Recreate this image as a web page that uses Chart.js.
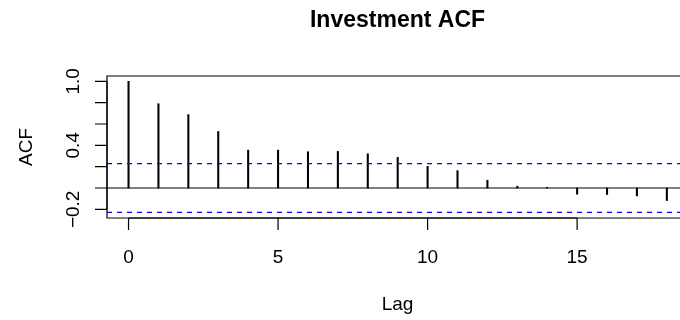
<!DOCTYPE html>
<html>
<head>
<meta charset="utf-8">
<script src="https://cdn.jsdelivr.net/npm/chart.js@4/dist/chart.umd.min.js"></script>
<style>
  html, body { margin: 0; padding: 0; background: #fff; overflow: hidden; }
  #wrap { width: 680px; height: 320px; }
</style>
</head>
<body>
<div id="wrap"><canvas id="acf"></canvas></div>
<script>
// values
const lags = [0, 1, 2, 3, 4, 5, 6, 7, 8, 9, 10, 11, 12, 13, 14, 15, 16, 17, 18];
const acfValues = [1.0, 0.79, 0.688, 0.53, 0.355, 0.355, 0.34, 0.343, 0.321, 0.287, 0.203, 0.163, 0.073, 0.017, 0.007, -0.058, -0.061, -0.074, -0.117];
const confLimit = 0.229;
const xTicks = [0, 5, 10, 15];
const yTicks = [-0.2, 0, 0.2, 0.4, 0.6, 0.8, 1.0];
const yTickLabels = ["\u22120.2", "", "", "0.4", "", "", "1.0"];

const X_MIN = -0.72, X_MAX = 18.44;
const Y_MIN = -0.281, Y_MAX = 1.05;
const FONT = '"Liberation Sans", Arial, Helvetica, sans-serif';

function hline(y, color, dash) {
  return {
    type: "line",
    data: [{ x: X_MIN, y: y }, { x: X_MAX, y: y }],
    borderColor: color,
    borderWidth: 1.2,
    borderDash: dash,
    pointRadius: 0,
    order: dash.length ? 1 : 2,
  };
}

// R-style frame, ticks and text
const rFrame = {
  id: "rFrame",
  afterDraw(chart) {
    const { ctx, chartArea: a } = chart;
    const xs = chart.scales.x, ys = chart.scales.y;
    ctx.save();
    ctx.strokeStyle = "#000";
    ctx.fillStyle = "#000";
    ctx.lineWidth = 1.2;

    // box (right side runs off the canvas)
    ctx.beginPath();
    ctx.moveTo(a.right + 2, a.top);
    ctx.lineTo(a.left, a.top);
    ctx.lineTo(a.left, a.bottom);
    ctx.lineTo(a.right + 2, a.bottom);
    ctx.stroke();

    // x axis
    ctx.beginPath();
    ctx.moveTo(xs.getPixelForValue(xTicks[0]), a.bottom);
    ctx.lineTo(xs.getPixelForValue(xTicks[xTicks.length - 1]), a.bottom);
    xTicks.forEach((t) => {
      const px = xs.getPixelForValue(t);
      ctx.moveTo(px, a.bottom);
      ctx.lineTo(px, a.bottom + 12);
    });
    ctx.stroke();

    // y axis
    ctx.beginPath();
    ctx.moveTo(a.left, ys.getPixelForValue(yTicks[0]));
    ctx.lineTo(a.left, ys.getPixelForValue(yTicks[yTicks.length - 1]));
    yTicks.forEach((t) => {
      const py = ys.getPixelForValue(t);
      ctx.moveTo(a.left, py);
      ctx.lineTo(a.left - 12, py);
    });
    ctx.stroke();

    ctx.font = "19px " + FONT;
    ctx.textAlign = "center";
    ctx.textBaseline = "alphabetic";
    xTicks.forEach((t) => {
      ctx.fillText(String(t), xs.getPixelForValue(t), 263);
    });

    yTicks.forEach((t, i) => {
      if (!yTickLabels[i]) return;
      ctx.save();
      ctx.translate(79, ys.getPixelForValue(t));
      ctx.rotate(-Math.PI / 2);
      ctx.fillText(yTickLabels[i], 0, 0);
      ctx.restore();
    });

    // axis titles
    const midX = (a.left + 688) / 2;
    ctx.fillText("Lag", midX, 310);
    ctx.save();
    ctx.translate(32, (a.top + a.bottom) / 2);
    ctx.rotate(-Math.PI / 2);
    ctx.fillText("ACF", 0, 0);
    ctx.restore();

    ctx.font = "bold 23px " + FONT;
    ctx.fillText("Investment ACF", midX, 27);
    ctx.restore();
  },
};

new Chart(document.getElementById("acf"), {
  type: "bar",
  data: {
    datasets: [
      {
        type: "bar",
        data: lags.map((l, i) => ({ x: l, y: acfValues[i] })),
        backgroundColor: "#000",
        barThickness: 1.4,
        order: 3,
      },
      hline(0, "#000", []),
      hline(confLimit, "#0000ff", [5, 5]),
      hline(-confLimit, "#0000ff", [5, 5]),
    ],
  },
  options: {
    responsive: true,
    maintainAspectRatio: false,
    animation: false,
    devicePixelRatio: 1,
    layout: { padding: { left: 107, top: 76, right: 0, bottom: 102 } },
    scales: {
      x: { type: "linear", min: X_MIN, max: X_MAX, offset: false, display: false },
      y: { type: "linear", min: Y_MIN, max: Y_MAX, display: false },
    },
    plugins: {
      legend: { display: false },
      tooltip: { enabled: false },
      title: { display: false },
    },
  },
  plugins: [rFrame],
});
</script>
</body>
</html>
